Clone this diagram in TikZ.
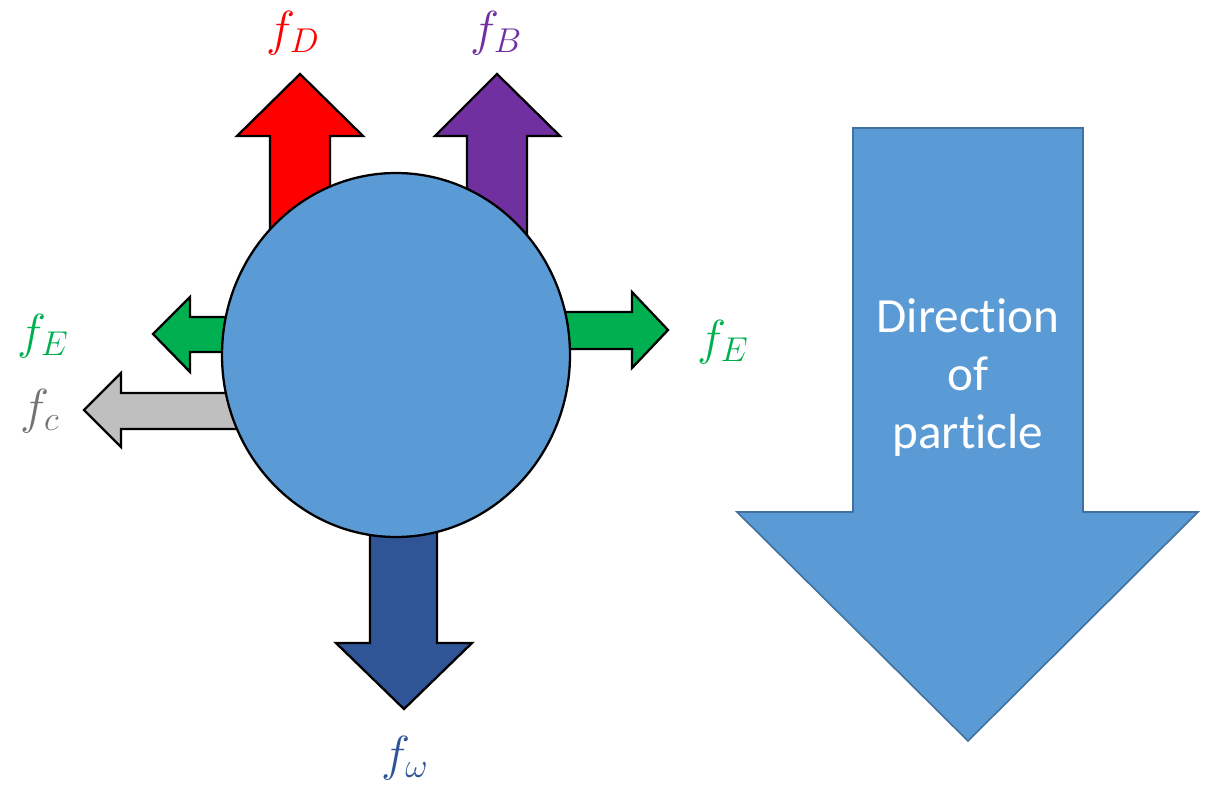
\documentclass[tikz,border=0pt]{standalone}
\usepackage{fix-cm}
\usepackage{fontspec}
\setmainfont{Carlito}[Ligatures=NoCommon,Contextuals=NoAlternate]
\usetikzlibrary{shapes.geometric}
\definecolor{drag}{HTML}{FF0000}
\definecolor{buoy}{HTML}{7030A0}
\definecolor{elec}{HTML}{00B050}
\definecolor{coll}{HTML}{BFBFBF}
\definecolor{spin}{HTML}{2F5597}
\definecolor{partblue}{HTML}{5B9BD5}
\definecolor{partedge}{HTML}{41719C}
\begin{document}
\begin{tikzpicture}[x=0.2mm,y=-0.2mm,
  force/.style={draw=black,line width=1.3pt,line join=miter},
  lbl/.style={font=\fontsize{28}{30}\selectfont}]
  \useasboundingbox (0,0) rectangle (1209,787);
  % forces on the particle
  \filldraw[force,fill=drag] (270,270) -- (270,136) -- (237,136) -- (300,74) -- (363,136) -- (330,136) -- (330,270);
  \filldraw[force,fill=buoy] (467,270) -- (467,136) -- (435,136) -- (497,74) -- (560,136) -- (527,136) -- (527,270);
  \filldraw[force,fill=elec] (300,317) -- (190,317) -- (190,297) -- (153,334) -- (190,372) -- (190,352) -- (300,352);
  \filldraw[force,fill=coll] (300,393) -- (121,393) -- (121,373) -- (84,410) -- (121,447) -- (121,429) -- (300,429);
  \filldraw[force,fill=elec] (500,312) -- (632,312) -- (632,292) -- (668,330) -- (632,368) -- (632,349) -- (500,349);
  \filldraw[force,fill=spin] (370,450) -- (370,643) -- (336,643) -- (404,709) -- (472,643) -- (437,643) -- (437,450);
  \node[ellipse,draw=black,line width=1.3pt,fill=partblue,minimum width=69.6mm,minimum height=72.8mm] (particle) at (396,355) {};
  % labels
  \node[lbl,text=drag] (fD) at (293,33) {$f_D$};
  \node[lbl,text=buoy] (fB) at (496,33) {$f_B$};
  \node[lbl,text=elec] (fEl) at (43,336) {$f_E$};
  \node[lbl,text=black!55] (fc) at (40,411) {$f_c$};
  \node[lbl,text=elec] (fEr) at (723,342) {$f_E$};
  \node[lbl,text=spin] (fw) at (405,758) {$f_\omega$};
  % direction of motion
  \filldraw[fill=partblue,draw=partedge,line width=0.9pt] (853,128) -- (1083,128) -- (1083,512) -- (1198,512) -- (968,741) -- (737,512) -- (853,512) -- cycle;
  \node[text=white,align=center,font=\fontsize{28}{33}\selectfont] (dir) at (968,378) {Direc\kern0pt tion\\of\\particle};
\end{tikzpicture}
\end{document}
